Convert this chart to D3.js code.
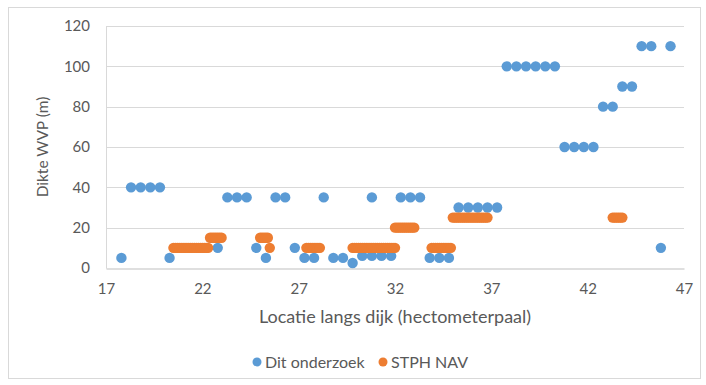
<!DOCTYPE html>
<html>
<head>
<meta charset="utf-8">
<script src="https://cdn.jsdelivr.net/npm/d3@7"></script>
<style>
  html, body { margin: 0; padding: 0; background: #fff; }
  svg { display: block; font-family: Lato, "Open Sans", sans-serif; }
</style>
</head>
<body>
<svg id="chart" width="706" height="385"></svg>
<script>
// Dit onderzoek: location (hectometre post) and thickness of the aquifer (m)
const onderzoekX = [17.8, 18.3, 18.8, 19.3, 19.8, 20.3, 22.8, 23.3, 23.8, 24.3, 24.8, 25.3,
  25.8, 26.3, 26.8, 27.3, 27.8, 28.3, 28.8, 29.3, 29.8, 30.3, 30.8, 30.8, 31.3, 31.8,
  32.3, 32.8, 33.3, 33.8, 34.3, 34.8, 35.3, 35.8, 36.3, 36.8, 37.3, 37.8, 38.3, 38.8,
  39.3, 39.8, 40.3, 40.8, 41.3, 41.8, 42.3, 42.8, 43.3, 43.8, 44.3, 44.8, 45.3, 45.8, 46.3];
const onderzoekY = [5, 40, 40, 40, 40, 5, 10, 35, 35, 35, 10, 5,
  35, 35, 10, 5, 5, 35, 5, 5, 2.5, 6, 6, 35, 6, 6,
  35, 35, 35, 5, 5, 5, 30, 30, 30, 30, 30, 100, 100, 100,
  100, 100, 100, 60, 60, 60, 60, 80, 80, 90, 90, 110, 110, 10, 110];

// STPH NAV: densely sampled locations and thickness (m)
const stphX = [
  20.5, 20.6, 20.7, 20.8, 20.9, 21.0, 21.1, 21.2, 21.3, 21.4, 21.5, 21.6, 21.7, 21.8, 21.9, 22.0, 22.1, 22.2, 22.3,
  22.4, 22.5, 22.6, 22.7, 22.8, 22.9, 23.0,
  25.0, 25.1, 25.2, 25.3, 25.4,
  25.5,
  27.4, 27.5, 27.6, 27.7, 27.8, 27.9, 28.0, 28.1,
  29.8, 29.9, 30.0, 30.1, 30.2, 30.3, 30.4, 30.5, 30.6, 30.7, 30.8, 30.9, 31.0, 31.1, 31.2, 31.3, 31.4, 31.5, 31.6, 31.7, 31.8, 31.9, 32.0,
  32.0, 32.1, 32.2, 32.3, 32.4, 32.5, 32.6, 32.7, 32.8, 32.9, 33.0,
  33.9, 34.0, 34.1, 34.2, 34.3, 34.4, 34.5, 34.6, 34.7, 34.8, 34.9,
  35.0, 35.1, 35.2, 35.3, 35.4, 35.5, 35.6, 35.7, 35.8, 35.9, 36.0, 36.1, 36.2, 36.3, 36.4, 36.5, 36.6, 36.7, 36.8,
  43.3, 43.4, 43.5, 43.6, 43.7, 43.8];
const stphY = [
  10, 10, 10, 10, 10, 10, 10, 10, 10, 10, 10, 10, 10, 10, 10, 10, 10, 10, 10,
  15, 15, 15, 15, 15, 15, 15,
  15, 15, 15, 15, 15,
  10,
  10, 10, 10, 10, 10, 10, 10, 10,
  10, 10, 10, 10, 10, 10, 10, 10, 10, 10, 10, 10, 10, 10, 10, 10, 10, 10, 10, 10, 10, 10, 10,
  20, 20, 20, 20, 20, 20, 20, 20, 20, 20, 20,
  10, 10, 10, 10, 10, 10, 10, 10, 10, 10, 10,
  25, 25, 25, 25, 25, 25, 25, 25, 25, 25, 25, 25, 25, 25, 25, 25, 25, 25, 25,
  25, 25, 25, 25, 25, 25];

const xTicks = [17, 22, 27, 32, 37, 42, 47];
const yTicks = [0, 20, 40, 60, 80, 100, 120];
const seriesNames = ["Dit onderzoek", "STPH NAV"];
const seriesColors = ["#5B9BD5", "#ED7D31"];

const svg = d3.select("#chart");
const textColor = "#595959";

// chart area border
svg.append("rect")
  .attr("x", 8.5).attr("y", 7.5)
  .attr("width", 692).attr("height", 371)
  .attr("fill", "#fff").attr("stroke", "#d9d9d9");

const x = d3.scaleLinear().domain([17, 47]).range([106, 684]);
const y = d3.scaleLinear().domain([0, 120]).range([268, 26]);

// horizontal gridlines
svg.append("g")
  .selectAll("line")
  .data(yTicks.filter(v => v > 0))
  .join("line")
  .attr("x1", x(17)).attr("x2", x(47))
  .attr("y1", d => Math.round(y(d)) + 0.5).attr("y2", d => Math.round(y(d)) + 0.5)
  .attr("stroke", "#d9d9d9").attr("stroke-width", 1);

// y axis
const yAxis = svg.append("g")
  .attr("transform", `translate(${x(17)},0)`)
  .call(d3.axisLeft(y).tickValues(yTicks).tickSize(0).tickPadding(16));
yAxis.select(".domain").attr("stroke", "#d9d9d9");
yAxis.selectAll("text").attr("fill", textColor).attr("font-size", 15)
  .attr("font-family", "Lato, sans-serif");

// x axis
const xAxis = svg.append("g")
  .attr("transform", `translate(0,${Math.round(y(0)) + 0.5})`)
  .call(d3.axisBottom(x).tickValues(xTicks).tickSize(0).tickPadding(15));
xAxis.select(".domain").attr("stroke", "#bfbfbf");
xAxis.selectAll("text").attr("fill", textColor).attr("font-size", 15)
  .attr("font-family", "Lato, sans-serif");

// axis titles
svg.append("text")
  .attr("x", (x(17) + x(47)) / 2).attr("y", 323)
  .attr("text-anchor", "middle")
  .attr("fill", textColor).attr("font-size", 18)
  .text("Locatie langs dijk (hectometerpaal)");

svg.append("text")
  .attr("transform", `translate(48,${(y(0) + y(120)) / 2}) rotate(-90)`)
  .attr("text-anchor", "middle")
  .attr("fill", textColor).attr("font-size", 15.5)
  .text("Dikte WVP (m)");

// markers
const r = 5.2;
const blue = d3.range(onderzoekX.length).map(i => [onderzoekX[i], onderzoekY[i]]);
const orange = d3.range(stphX.length).map(i => [stphX[i], stphY[i]]);

svg.append("g").selectAll("circle").data(blue).join("circle")
  .attr("cx", d => x(d[0])).attr("cy", d => y(d[1])).attr("r", r)
  .attr("fill", seriesColors[0]);

svg.append("g").selectAll("circle").data(orange).join("circle")
  .attr("cx", d => x(d[0])).attr("cy", d => y(d[1])).attr("r", r)
  .attr("fill", seriesColors[1]);

// legend
const legend = svg.append("g").attr("transform", "translate(257,362)");
const legendOffsets = [0, 126];
seriesNames.forEach((name, i) => {
  const g = legend.append("g").attr("transform", `translate(${legendOffsets[i]},0)`);
  g.append("circle").attr("cx", 0).attr("cy", 0).attr("r", 4.5).attr("fill", seriesColors[i]);
  g.append("text").attr("x", 8).attr("y", 0).attr("dy", "0.35em")
    .attr("fill", textColor).attr("font-size", 16).text(name);
});
</script>
</body>
</html>
